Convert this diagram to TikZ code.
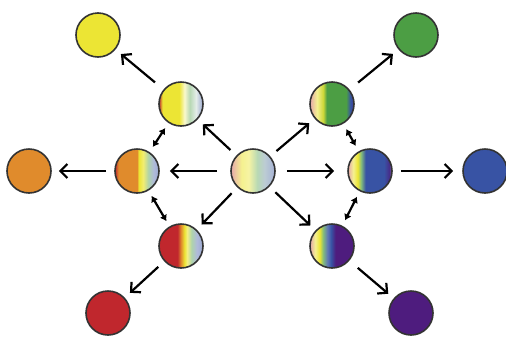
\documentclass[tikz,border=0pt]{standalone}
\usetikzlibrary{arrows.meta}

\definecolor{rbred}{HTML}{C0272D}
\definecolor{rborange}{HTML}{E08B2C}
\definecolor{rbyellow}{HTML}{ECE534}
\definecolor{rbgreen}{HTML}{4C9E44}
\definecolor{rbblue}{HTML}{3853A4}
\definecolor{rbpurple}{HTML}{4E1C7E}

% stripes of the mixed circles (visible part: 25bp to 75bp)
\pgfdeclarehorizontalshading{mixshade}{100bp}{
  color(0bp)=(rbred!40!white); color(25bp)=(rbred!40!white);
  color(37bp)=(rbyellow!55!white); color(45bp)=(rbyellow!45!white);
  color(55bp)=(rbgreen!40!white); color(63bp)=(rbgreen!35!rbblue!35!white);
  color(75bp)=(rbblue!45!white); color(100bp)=(rbblue!45!white)}
\pgfdeclarehorizontalshading{yelshade}{100bp}{
  color(0bp)=(rbred); color(25bp)=(rbred);
  color(29bp)=(rbyellow); color(48bp)=(rbyellow);
  color(54bp)=(rbyellow!25!white); color(60bp)=(rbgreen!40!white);
  color(67bp)=(rbblue!35!rbgreen!15!white); color(75bp)=(rbblue!50!white); color(100bp)=(rbblue!50!white)}
\pgfdeclarehorizontalshading{orashade}{100bp}{
  color(0bp)=(rbred); color(25bp)=(rbred);
  color(29bp)=(rborange); color(50bp)=(rborange);
  color(52bp)=(rbyellow); color(57bp)=(rbyellow!70!white);
  color(63bp)=(rbgreen!45!white); color(69bp)=(rbblue!40!white);
  color(75bp)=(rbblue!50!white); color(100bp)=(rbblue!50!white)}
\pgfdeclarehorizontalshading{redshade}{100bp}{
  color(0bp)=(rbred); color(25bp)=(rbred);
  color(46bp)=(rbred); color(50bp)=(rborange);
  color(54bp)=(rbyellow); color(57bp)=(rbyellow!60!white);
  color(62bp)=(rbgreen!45!white); color(68bp)=(rbblue!40!white);
  color(75bp)=(rbblue!50!white); color(100bp)=(rbblue!50!white)}
\pgfdeclarehorizontalshading{greshade}{100bp}{
  color(0bp)=(rbred!40!white); color(25bp)=(rbred!40!white);
  color(33bp)=(rbyellow!55!white); color(40bp)=(rbyellow!80!rbgreen);
  color(44bp)=(rbgreen); color(66bp)=(rbgreen);
  color(71bp)=(rbblue); color(75bp)=(rbblue!60!rbpurple); color(100bp)=(rbblue!60!rbpurple)}
\pgfdeclarehorizontalshading{blushade}{100bp}{
  color(0bp)=(rbred!40!white); color(25bp)=(rbred!40!white);
  color(31bp)=(rbyellow!55!white); color(36bp)=(rbyellow);
  color(40bp)=(rbgreen!70!white); color(45bp)=(rbblue);
  color(66bp)=(rbblue); color(72bp)=(rbpurple!70!rbblue);
  color(75bp)=(rbpurple!60!white); color(100bp)=(rbpurple!60!white)}
\pgfdeclarehorizontalshading{purshade}{100bp}{
  color(0bp)=(rbred!40!white); color(25bp)=(rbred!40!white);
  color(31bp)=(rbyellow!55!white); color(36bp)=(rbyellow);
  color(40bp)=(rbgreen!70!white); color(45bp)=(rbblue!80!white);
  color(49bp)=(rbblue); color(54bp)=(rbpurple);
  color(75bp)=(rbpurple); color(100bp)=(rbpurple)}

\begin{document}
\begin{tikzpicture}[x=1pt, y=-1pt,
	dot/.style={circle, draw=black!80, line width=1.6pt, minimum size=44pt, inner sep=0pt},
	arr/.style={line width=2.2pt, -{Straight Barb[length=7pt,width=14pt]}, shorten <=8pt, shorten >=7pt},
	dbl/.style={line width=2.2pt, {Latex[length=6pt,width=8pt]}-{Latex[length=6pt,width=8pt]}, shorten <=6pt, shorten >=6pt}]
	\useasboundingbox (0,0) rectangle (506,338);
	
	% mixed circles
	\node[dot, shade, shading=mixshade] (mix) at (253,171) {};
	\node[dot, shade, shading=yelshade] (yelmix) at (181,104) {};
	\node[dot, shade, shading=orashade] (oramix) at (137,171) {};
	\node[dot, shade, shading=redshade] (redmix) at (181,246) {};
	\node[dot, shade, shading=greshade] (gremix) at (332,104) {};
	\node[dot, shade, shading=blushade] (blumix) at (370,171) {};
	\node[dot, shade, shading=purshade] (purmix) at (332,246) {};
	
	% pure circles
	\node[dot, fill=rbyellow] (yel) at (98,35) {};
	\node[dot, fill=rborange] (ora) at (29,171) {};
	\node[dot, fill=rbred] (red) at (108,313) {};
	\node[dot, fill=rbgreen] (gre) at (416,35) {};
	\node[dot, fill=rbblue] (blu) at (485,171) {};
	\node[dot, fill=rbpurple] (pur) at (411,313) {};
	
	\draw[arr] (mix) -- (yelmix);
	\draw[arr, shorten <=13pt, shorten >=10pt] (mix) -- (oramix);
	\draw[arr] (mix) -- (redmix);
	\draw[arr] (mix) -- (gremix);
	\draw[arr, shorten <=11pt, shorten >=13pt] (mix) -- (blumix);
	\draw[arr] (mix) -- (purmix);
	
	\draw[arr, shorten <=11pt] (yelmix) -- (yel);
	\draw[arr] (oramix) -- (ora);
	\draw[arr] (redmix) -- (red);
	\draw[arr, shorten <=11pt] (gremix) -- (gre);
	\draw[arr, shorten <=8pt, shorten >=9pt] (blumix) -- (blu);
	\draw[arr, shorten <=11pt] (purmix) -- (pur);
	
	\draw[dbl] (yelmix) -- (oramix);
	\draw[dbl] (oramix) -- (redmix);
	\draw[dbl] (gremix) -- (blumix);
	\draw[dbl] (blumix) -- (purmix);
\end{tikzpicture}
\end{document}
